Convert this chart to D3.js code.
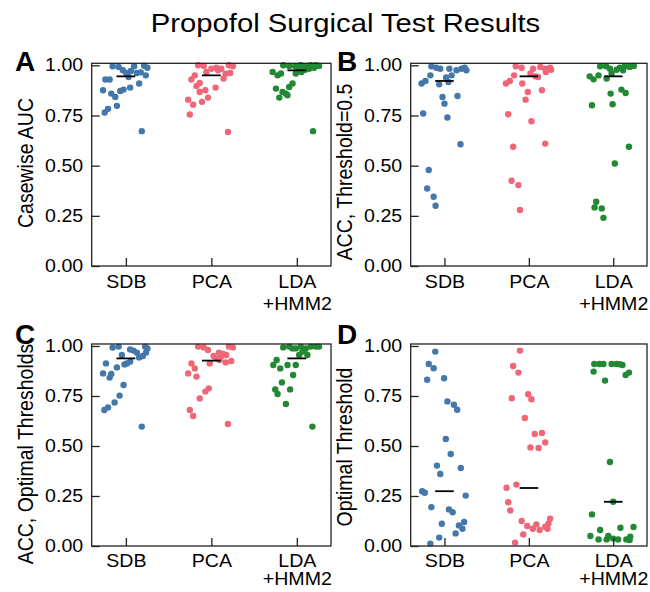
<!DOCTYPE html>
<html lang="en">
<head>
    <meta charset="UTF-8">
    <title>Propofol Surgical Test Results</title>
    <script src="https://d3js.org/d3.v7.min.js"></script>
    <style>
        body { margin: 0; background: #fff; }
        text { font-family: "Liberation Sans", Arial, sans-serif; }
    </style>
</head>
<body>
    <script>
        // Categories and tick labels
        const categories = ["SDB", "PCA", "LDA\n+HMM2"];
        const yTicks = [0, 0.25, 0.5, 0.75, 1.0];
        const colors = ["#4477AA", "#EE6677", "#228833"];

        // Each point: [jitter offset in category units, value]
        // A: Casewise AUC
        const aucSDB = [[-0.155,0.995],[-0.085,0.992],[0.097,0.995],[0.213,0.998],[0.252,0.988],[-0.035,0.975],[0.058,0.972],[0.128,0.962],[0.174,0.965],[0.233,0.950],[0.031,0.942],[-0.240,0.929],[-0.190,0.929],[0.155,0.909],[0.050,0.889],[-0.267,0.876],[-0.066,0.872],[-0.027,0.879],[-0.171,0.859],[-0.124,0.842],[-0.105,0.798],[-0.209,0.783],[-0.248,0.765],[0.186,0.672],[0.004,0.962]];
        const aucPCA = [[-0.155,1.000],[-0.089,0.997],[0.000,0.983],[0.058,0.988],[0.116,0.983],[0.205,1.000],[0.252,0.995],[0.167,0.958],[0.221,0.962],[-0.058,0.967],[-0.194,0.950],[-0.233,0.929],[0.143,0.934],[-0.136,0.912],[-0.174,0.897],[0.050,0.889],[-0.070,0.876],[-0.136,0.867],[-0.039,0.839],[-0.271,0.829],[-0.109,0.818],[-0.213,0.804],[-0.252,0.755],[0.194,0.668],[0.078,0.975]];
        const aucLDA = [[-0.159,1.000],[-0.089,0.997],[-0.019,0.995],[0.047,1.000],[0.105,0.995],[0.163,1.000],[0.221,1.000],[0.260,0.997],[-0.283,0.967],[-0.225,0.950],[-0.186,0.959],[-0.012,0.959],[0.054,0.967],[0.097,0.978],[-0.050,0.909],[-0.089,0.892],[-0.244,0.884],[-0.167,0.867],[-0.128,0.859],[-0.205,0.839],[-0.109,0.851],[0.190,0.672],[0.143,0.983],[0.202,0.988],[0.027,0.975]];
        const aucMedians = [0.945, 0.950, 0.975];

        // B: ACC, Threshold=0.5
        const acc05SDB = [[-0.155,0.995],[-0.097,0.988],[-0.050,0.983],[0.058,0.983],[0.143,0.975],[0.202,0.983],[0.240,0.988],[0.260,0.975],[-0.167,0.950],[-0.225,0.922],[-0.271,0.909],[-0.062,0.905],[0.019,0.939],[0.085,0.950],[0.047,0.917],[-0.023,0.842],[0.000,0.809],[0.155,0.847],[0.035,0.740],[-0.252,0.760],[0.190,0.607],[-0.186,0.478],[-0.205,0.386],[-0.128,0.345],[-0.105,0.300]];
        const acc05PCA = [[-0.155,0.995],[-0.085,0.988],[0.050,0.983],[0.136,0.992],[0.194,0.983],[0.252,0.988],[0.264,0.978],[0.202,0.967],[-0.271,0.909],[-0.225,0.922],[-0.174,0.950],[-0.078,0.909],[-0.012,0.867],[-0.039,0.829],[0.078,0.945],[0.109,0.942],[0.155,0.876],[-0.244,0.756],[0.031,0.721],[-0.186,0.594],[0.194,0.610],[-0.205,0.425],[-0.124,0.403],[-0.105,0.279],[0.019,0.959]];
        const acc05LDA = [[-0.155,0.995],[-0.085,0.995],[-0.039,0.983],[0.078,0.988],[0.136,0.995],[0.194,0.992],[0.244,0.997],[0.039,0.978],[-0.279,0.945],[-0.233,0.930],[-0.174,0.950],[-0.078,0.934],[-0.019,0.959],[-0.031,0.859],[0.097,0.879],[0.147,0.862],[-0.252,0.801],[-0.008,0.806],[0.186,0.594],[0.019,0.511],[-0.202,0.320],[-0.221,0.292],[-0.136,0.287],[-0.116,0.240],[0.116,0.975]];
        const acc05Medians = [0.922, 0.945, 0.945];

        // C: ACC, Optimal Thresholds
        const accOptSDB = [[-0.155,0.992],[-0.085,0.997],[0.050,0.983],[0.089,0.977],[0.128,0.967],[0.225,0.997],[0.252,0.988],[0.236,0.967],[-0.047,0.955],[0.155,0.943],[0.198,0.950],[0.012,0.913],[-0.016,0.908],[0.050,0.922],[-0.233,0.913],[-0.105,0.893],[-0.267,0.863],[-0.171,0.860],[-0.190,0.842],[-0.027,0.805],[-0.074,0.752],[-0.132,0.718],[-0.209,0.693],[-0.252,0.680],[0.186,0.597]];
        const accOptPCA = [[-0.155,0.997],[-0.089,0.993],[-0.039,0.980],[0.205,0.997],[0.252,0.993],[0.089,0.967],[0.136,0.960],[0.027,0.950],[0.058,0.938],[0.167,0.918],[0.233,0.925],[-0.019,0.913],[-0.233,0.913],[-0.194,0.888],[-0.271,0.863],[-0.174,0.847],[-0.031,0.788],[-0.070,0.772],[-0.136,0.738],[-0.252,0.680],[-0.213,0.650],[0.194,0.610],[0.116,0.947],[0.097,0.930],[0.174,0.955]];
        const accOptLDA = [[-0.159,0.993],[-0.089,0.997],[-0.012,0.988],[0.047,0.997],[0.105,0.988],[0.163,0.997],[0.221,0.997],[0.066,0.972],[0.124,0.955],[-0.275,0.905],[-0.236,0.930],[-0.194,0.888],[-0.109,0.905],[-0.012,0.905],[-0.043,0.855],[-0.174,0.818],[-0.252,0.783],[-0.078,0.783],[-0.225,0.760],[-0.128,0.710],[0.182,0.597],[0.085,0.980],[0.260,0.997],[0.027,0.955],[-0.050,0.988]];
        const accOptMedians = [0.938, 0.927, 0.938];

        // D: Optimal Threshold
        const thrSDB = [[-0.109,0.972],[-0.186,0.910],[-0.128,0.889],[-0.205,0.831],[-0.004,0.839],[0.035,0.723],[0.112,0.706],[0.151,0.681],[0.016,0.535],[0.074,0.460],[-0.089,0.402],[-0.050,0.360],[0.194,0.390],[-0.264,0.274],[-0.233,0.266],[0.252,0.252],[-0.155,0.194],[0.054,0.183],[0.097,0.169],[-0.031,0.111],[0.171,0.103],[0.233,0.120],[0.213,0.086],[0.132,0.063],[-0.062,0.042],[-0.167,0.012]];
        const thrPCA = [[-0.105,0.977],[-0.186,0.900],[-0.124,0.867],[-0.202,0.739],[-0.008,0.759],[0.031,0.734],[-0.047,0.640],[0.070,0.560],[0.155,0.565],[0.019,0.493],[0.116,0.490],[0.194,0.518],[-0.264,0.291],[-0.147,0.307],[-0.244,0.219],[-0.221,0.178],[-0.085,0.125],[-0.019,0.100],[0.047,0.086],[0.089,0.108],[0.128,0.080],[0.194,0.096],[0.221,0.086],[0.233,0.113],[0.252,0.136],[-0.066,0.058],[-0.163,0.017]];
        const thrLDA = [[-0.225,0.910],[-0.163,0.910],[-0.116,0.910],[-0.019,0.910],[0.039,0.910],[0.078,0.909],[0.109,0.905],[-0.233,0.872],[-0.097,0.827],[0.147,0.855],[0.186,0.867],[-0.039,0.420],[0.000,0.221],[-0.252,0.158],[-0.271,0.050],[-0.155,0.080],[-0.174,0.033],[-0.078,0.033],[-0.058,0.050],[0.000,0.037],[0.085,0.091],[0.058,0.033],[0.155,0.033],[0.202,0.047],[0.240,0.095],[0.194,0.030]];
        const thrMedians = [0.274, 0.290, 0.221];

        const width = 650;
        const height = 592;
        const tickFont = 17.5;
        const textStretch = 1.12;   // reference text is a bit wider than it is tall

        const svg = d3.select('body')
            .append('svg')
            .attr('width', width)
            .attr('height', height);

        svg.append('rect').attr('width', width).attr('height', height).attr('fill', '#fff');

        // Title
        svg.append('text')
            .attr('transform', 'translate(345.5,31.5) scale(1.17,1)')
            .attr('text-anchor', 'middle')
            .attr('font-size', 25)
            .text('Propofol Surgical Test Results');

        const panels = [
            { letter: 'A', ylabel: 'Casewise AUC', groups: [aucSDB, aucPCA, aucLDA], medians: aucMedians,
              left: 91.7, right: 331, top: 63.3, bottom: 266, labelY: 163, letterX: 15, letterY: 71,
              catY: 21.7, catGap: 22 },
            { letter: 'B', ylabel: 'ACC, Threshold=0.5', groups: [acc05SDB, acc05PCA, acc05LDA], medians: acc05Medians,
              left: 410.7, right: 647, top: 63.3, bottom: 266, labelY: 172, letterX: 337, letterY: 71,
              catY: 21.7, catGap: 22 },
            { letter: 'C', ylabel: 'ACC, Optimal Thresholds', groups: [accOptSDB, accOptPCA, accOptLDA], medians: accOptMedians,
              left: 91.7, right: 331, top: 344, bottom: 546, labelY: 454, letterX: 15, letterY: 344,
              catY: 21, catGap: 18 },
            { letter: 'D', ylabel: 'Optimal Threshold', groups: [thrSDB, thrPCA, thrLDA], medians: thrMedians,
              left: 410.7, right: 647, top: 344, bottom: 546, labelY: 447, letterX: 337, letterY: 344,
              catY: 21, catGap: 18 }
        ];

        panels.forEach(p => {
            const x = d3.scaleLinear().domain([-0.4, 2.4]).range([p.left, p.right]);
            const y = d3.scaleLinear().domain([0, 1.01]).range([p.bottom, p.top]);
            const g = svg.append('g');

            // Points
            p.groups.forEach((pts, i) => {
                g.selectAll(null)
                    .data(pts)
                    .enter()
                    .append('circle')
                    .attr('cx', d => x(i + d[0]))
                    .attr('cy', d => y(d[1]))
                    .attr('r', 3.2)
                    .attr('fill', colors[i]);
            });

            // Median bars
            g.selectAll(null)
                .data(p.medians)
                .enter()
                .append('line')
                .attr('x1', (d, i) => x(i - 0.11))
                .attr('x2', (d, i) => x(i + 0.11))
                .attr('y1', d => y(d))
                .attr('y2', d => y(d))
                .attr('stroke', '#000')
                .attr('stroke-width', 1.8);

            // Axes (inward ticks)
            const yAxis = g.append('g')
                .attr('transform', `translate(${p.left},0)`)
                .call(d3.axisLeft(y).tickValues(yTicks).tickFormat(d3.format('.2f'))
                    .tickSize(-8).tickPadding(7.6));
            const xAxis = g.append('g')
                .attr('transform', `translate(0,${p.bottom})`)
                .call(d3.axisBottom(x).tickValues([0, 1, 2]).tickFormat('')
                    .tickSize(-8));
            [yAxis, xAxis].forEach(a => {
                a.select('.domain').remove();
                a.selectAll('line').attr('stroke', '#222').attr('stroke-width', 1.3);
            });
            yAxis.selectAll('text')
                .attr('font-size', tickFont)
                .attr('fill', '#000')
                .attr('transform', `scale(${textStretch},1)`)
                .style('font-family', '"Liberation Sans", Arial, sans-serif');

            // Multi-line category labels
            xAxis.selectAll('.tick')
                .append('text')
                .attr('text-anchor', 'middle')
                .attr('font-size', tickFont)
                .attr('fill', '#000')
                .attr('transform', `scale(${textStretch},1)`)
                .style('font-family', '"Liberation Sans", Arial, sans-serif')
                .selectAll('tspan')
                .data(d => categories[d].split('\n'))
                .enter()
                .append('tspan')
                .attr('x', 0)
                .attr('y', (d, j) => p.catY + j * p.catGap)
                .text(d => d);

            // Frame
            g.append('rect')
                .attr('x', p.left)
                .attr('y', p.top)
                .attr('width', p.right - p.left)
                .attr('height', p.bottom - p.top)
                .attr('fill', 'none')
                .attr('stroke', '#222')
                .attr('stroke-width', 1.3);

            // Y label
            svg.append('text')
                .attr('transform', `translate(${p.left - 59},${p.labelY}) rotate(-90) scale(1,1.15)`)
                .attr('text-anchor', 'middle')
                .attr('font-size', 19.5)
                .text(p.ylabel);

            // Panel letter
            svg.append('text')
                .attr('x', p.letterX)
                .attr('y', p.letterY)
                .attr('font-size', 28)
                .attr('font-weight', 'bold')
                .text(p.letter);
        });
    </script>
</body>
</html>
